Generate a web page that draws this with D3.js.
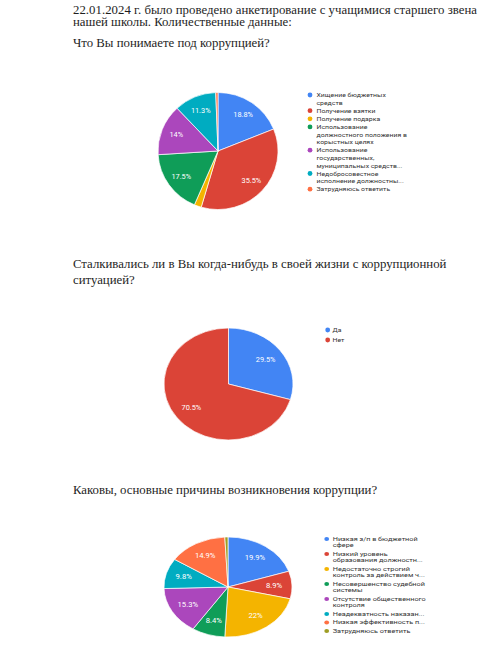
<!DOCTYPE html>
<html><head><meta charset="utf-8">
<script src="https://cdn.jsdelivr.net/npm/d3@7/dist/d3.min.js"></script>
<style>html,body{margin:0;padding:0;background:#fff;} svg{display:block}</style>
</head><body><svg id="c" width="503" height="662"></svg>
<script>
// ---- Data ----
const introLines = ["22.01.2024 г. было проведено анкетирование с учащимися старшего звена",
                    "нашей школы. Количественные данные:"];
const q1Title = ["Что Вы понимаете под коррупцией?"];
const q1Categories = ["Хищение бюджетных\nсредств", "Получение взятки", "Получение подарка",
  "Использование\nдолжностного положения в\nкорыстных целях",
  "Использование\nгосударственных,\nмуниципальных средств...",
  "Недобросовестное\nисполнение должностны...", "Затрудняюсь ответить"];
const q1Values = [18.8, 35.5, 1.9, 17.5, 14, 11.3, 0.6];

const q2Title = ["Сталкивались ли в Вы когда-нибудь в своей жизни с коррупционной", "ситуацией?"];
const q2Categories = ["Да", "Нет"];
const q2Values = [29.5, 70.5];

const q3Title = ["Каковы, основные причины возникновения коррупции?"];
const q3Categories = ["Низкая з/п в бюджетной\nсфере", "Низкий уровень\nобразования должностн...",
  "Недостаточно строгий\nконтроль за действием ч...", "Несовершенство судебной\nсистемы",
  "Отсутствие общественного\nконтроля", "Неадекватность наказан...",
  "Низкая эффективность п...", "Затрудняюсь ответить"];
const q3Values = [19.9, 8.9, 22, 8.4, 15.3, 9.8, 14.9, 0.8];

const palette = ["#4285F4","#DB4437","#F4B400","#0F9D58","#AB47BC","#00ACC1","#FF7043","#9E9D24"];

// ---- Drawing ----
const svg = d3.select("#c");

function paragraph(lines, x, y0, lh, justifyFirst){
  lines.forEach((l,i)=> {
    const t = svg.append("text").attr("x",x).attr("y", y0 + i*lh)
      .style("font-family","'Liberation Serif','Times New Roman',serif")
      .style("font-size","12.8px").attr("fill","#1e1e1e").text(l);
    if (justifyFirst && i === 0) t.attr("textLength", justifyFirst).attr("lengthAdjust","spacing");
  });
}
paragraph(introLines, 73, 13.5, 12.8, 404);
paragraph(q1Title, 73, 47, 13);
paragraph(q2Title, 73, 268, 15.5);
paragraph(q3Title, 73, 494, 15);

function pieChart(cats, vals, L){
  const color = d3.scaleOrdinal().domain(cats).range(palette);
  const pie = d3.pie().sort(null).value(d => d.v);
  const data = pie(cats.map((c,i)=>({c, v: vals[i]})));
  const arc = d3.arc().innerRadius(0).outerRadius(1);
  const g = svg.append("g").attr("transform", `translate(${L.cx},${L.cy})`);
  const gs = g.append("g").attr("transform", `scale(${L.rx},${L.ry})`);
  gs.selectAll("path").data(data).join("path")
    .attr("d", arc).attr("fill", d => color(d.data.c))
    .attr("stroke", "#fff").attr("stroke-width", 0.7).attr("vector-effect","non-scaling-stroke");
  const labelArc = d3.arc().innerRadius(L.lr).outerRadius(L.lr);
  g.selectAll("text.lab").data(data.filter(d => d.data.v >= 5)).join("text")
    .attr("class","lab")
    .attr("transform", d => { const [x,y] = labelArc.centroid(d); return `translate(${x*L.rx},${y*L.ry}) scale(${L.sx},1)`; })
    .attr("text-anchor","middle").attr("dy","0.35em")
    .style("font-family","Roboto, sans-serif").style("font-size", L.lfs+"px")
    .attr("fill","#fff").text(d => d.data.v + "%");

  // legend
  let y = L.ly;
  cats.forEach((c,i) => {
    const lines = c.split("\n");
    svg.append("ellipse").attr("cx", L.dx).attr("cy", y).attr("rx", L.dr).attr("ry", L.dr*L.dry)
      .attr("fill", color(c));
    lines.forEach((ln,j) => {
      svg.append("text").attr("transform", `translate(${L.tx},${y + j*L.lh}) scale(${L.tsx || L.sx},1)`)
        .attr("dy","0.35em")
        .style("font-family","Roboto, sans-serif").style("font-size", L.fs+"px")
        .attr("fill","#333").text(ln);
    });
    y += lines.length*L.lh + L.gap;
  });
}

pieChart(q1Categories, q1Values, {cx:218, cy:151, rx:60, ry:58.5, lr:0.75, lfs:6.4, sx:1.15,
  dx:310, dr:2.4, dry:1, tx:316.5, ly:95, lh:7.6, gap:0.5, fs:6});
pieChart(q2Categories, q2Values, {cx:228.5, cy:384, rx:64.5, ry:56, lr:0.72, lfs:6.4, sx:1.15,
  dx:327.7, dr:2.4, dry:1, tx:332.5, ly:330, lh:7.6, gap:2.4, fs:6});
pieChart(q3Categories, q3Values, {cx:228, cy:587, rx:64, ry:50, lr:0.72, lfs:6.4, sx:1.2, tsx:1.3,
  dx:326.7, dr:2.4, dry:0.85, tx:332.7, ly:539, lh:6.5, gap:2, fs:5.6});
</script></body></html>
